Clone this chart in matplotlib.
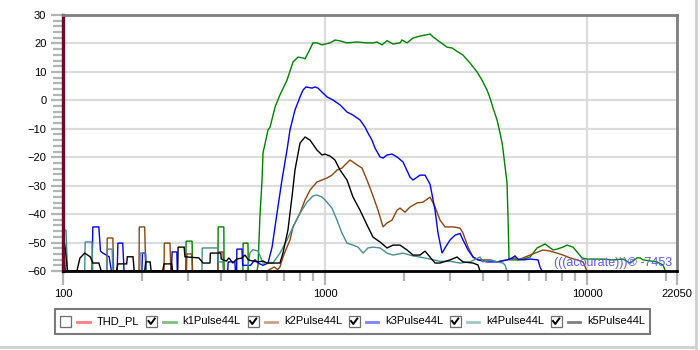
import matplotlib
matplotlib.use("Agg")
import matplotlib.pyplot as plt
from matplotlib.lines import Line2D
from matplotlib.patches import Rectangle
from matplotlib.ticker import FixedLocator, FixedFormatter, NullFormatter

plt.rcParams['font.family'] = ['Liberation Sans', 'DejaVu Sans']

# ---------------- data (frequency in Hz, level in dB) ----------------
series_names = ["THD_PL", "k1Pulse44L", "k2Pulse44L", "k3Pulse44L", "k4Pulse44L", "k5Pulse44L"]
series_colors = ["#ff0000", "#008000", "#8b4513", "#0000ff", "#4a8c8c", "#000000"]
series_checked = [False, True, True, True, True, True]

k1 = [(100, -60), (294, -60), (295, -49.5), (311, -49.5), (312, -60), (390, -60), (391, -44.5),
      (411, -44.5), (412, -60), (486, -60), (487, -50.2), (508, -50.2), (510, -60), (550, -60),
      (555, -58), (565, -40), (575, -28), (580, -18.5), (606, -10.4), (617, -9.4), (645, -2.3),
      (673, 1.9), (716, 7.1), (755, 13.5), (789, 15.2), (824, 14.9), (839, 14.6), (861, 16.6),
      (900, 20.2), (932, 20.2), (974, 19.5), (1045, 20.2), (1092, 21.2), (1141, 20.9), (1213, 20.2),
      (1325, 20.5), (1446, 20.2), (1525, 20.2), (1579, 20.5), (1651, 19.5), (1725, 21.0), (1818, 19.8),
      (1933, 20.2), (1967, 21.2), (2056, 20.2), (2167, 21.9), (2305, 22.6), (2517, 23.3), (2584, 22.3),
      (2748, 20.5), (2922, 18.7), (3053, 18.4), (3218, 17.0), (3363, 15.9), (3577, 13.1), (3804, 10.0),
      (3974, 7.1), (4153, 3.6), (4265, 0.8), (4378, -2.7), (4535, -6.9), (4656, -11.5), (4739, -15.0),
      (4781, -17.5), (4950, -29), (4994, -41), (5040, -56), (5083, -56.1), (5550, -56.1), (6060, -55.1),
      (6447, -51.9), (6916, -50.5), (7418, -52.6), (7683, -52.3), (8099, -51.6), (8390, -50.9),
      (8843, -51.6), (9571, -55.4), (10000, -55.8), (11511, -55.8), (12569, -56.1), (13725, -55.8),
      (14591, -57.2), (15514, -55.4), (15936, -55.4), (16361, -56.1), (18504, -56.8), (19506, -57.9),
      (19852, -59.7), (20000, -60)]

k2 = [(100, -60), (147, -60), (147.5, -48.4), (155, -48.4), (156, -60), (195, -60), (195.5, -44.5),
      (205, -44.5), (207, -60), (243, -60), (243.5, -50.2), (256, -50.2), (258, -60), (296, -60),
      (297, -54), (310, -54), (312, -60), (390, -60), (391, -53.3), (408, -53.3), (410, -60), (600, -60),
      (640, -58.6), (660, -59.5), (673, -58.6), (691, -55.1), (716, -51.6), (735, -49.1), (755, -44.5),
      (803, -39.6), (839, -35.0), (877, -31.5), (932, -28.7), (974, -28.0), (1018, -27.3), (1063, -26.3),
      (1111, -24.5), (1161, -23.8), (1192, -22.7), (1245, -21.0), (1279, -21.7), (1325, -22.7),
      (1384, -23.8), (1446, -28.0), (1511, -32.6), (1593, -38.6), (1665, -44.5), (1725, -43.1),
      (1802, -42.1), (1883, -38.6), (1933, -37.9), (2020, -39.3), (2111, -37.5), (2244, -36.1),
      (2366, -35.8), (2517, -34.0), (2630, -37.5), (2748, -42.1), (2871, -44.5), (3080, -44.5),
      (3276, -44.9), (3363, -46.7), (3515, -51.6), (3673, -55.1), (3837, -56.1), (4265, -56.1),
      (4535, -56.8), (4950, -56.1), (5310, -55.4), (5452, -56.1), (6060, -54.4), (6501, -53.3),
      (6791, -52.6), (7225, -53.0), (7683, -53.7), (8099, -54.4), (8612, -55.4), (9160, -56.1),
      (9654, -56.8), (10000, -60)]

k3 = [(100, -48.1), (102, -60), (129, -60), (130, -44.5), (137, -44.5), (139, -53), (142, -53.7),
      (150, -55), (153, -60), (161, -60), (162, -50.2), (169, -50.2), (171, -60), (200, -60),
      (201, -53.7), (206, -53.7), (208, -60), (259, -60), (261, -53.3), (272, -53.3), (273, -60),
      (425, -60), (427, -56.8), (453, -56.8), (455, -60), (460, -60), (461, -52.3), (482, -52.3),
      (485, -58), (520, -58), (540, -56), (556, -57.2), (580, -58), (606, -57.2), (628, -51.6),
      (656, -39.6), (685, -28.0), (716, -17.5), (735, -10.4), (768, -3.4), (803, 1.2), (824, 3.6),
      (846, 4.7), (892, 4.3), (916, 4.7), (940, 4.3), (974, 2.9), (1018, 1.2), (1073, 0.1),
      (1141, -1.6), (1213, -4.1), (1279, -5.2), (1360, -6.9), (1421, -9.4), (1459, -11.5),
      (1511, -14.0), (1552, -16.8), (1622, -19.9), (1665, -20.3), (1725, -19.2), (1802, -18.9),
      (1883, -19.9), (1985, -21.7), (2111, -27.0), (2167, -28.0), (2305, -26.3), (2408, -26.3),
      (2517, -29.5), (2630, -38.6), (2700, -46.7), (2797, -53.7), (2871, -51.9), (3000, -49.1),
      (3135, -47.4), (3276, -46.8), (3363, -49.1), (3515, -52.6), (3673, -55.1), (3837, -56.1),
      (4153, -56.8), (4535, -56.8), (4950, -56.1), (5172, -55.4), (5310, -54.7), (5452, -55.8),
      (5698, -56.1), (6060, -55.8), (6501, -56.1), (6617, -58.6), (6732, -60)]

k4 = [(100, -45.6), (102.7, -45.6), (104, -60), (121, -60), (121.5, -49.8), (129, -49.8), (130, -60),
      (147, -60), (147.5, -52.3), (154, -52.3), (155, -60), (196, -60), (197, -53.7), (207, -53.7),
      (208, -60), (339, -60), (340, -51.9), (390, -51.9), (392, -56.8), (408, -56.8), (410, -60),
      (505, -60), (517, -53.7), (531, -52.5), (555, -53.0), (580, -57.2), (633, -57.2), (673, -53.7),
      (716, -49.1), (755, -44.5), (803, -39.6), (854, -35.8), (900, -33.6), (932, -33.3), (974, -34.0),
      (1018, -35.8), (1063, -37.9), (1111, -42.1), (1161, -46.7), (1213, -50.2), (1279, -50.9),
      (1337, -51.6), (1396, -53.7), (1459, -51.9), (1525, -51.6), (1622, -51.9), (1725, -53.7),
      (1818, -54.4), (1985, -53.7), (2167, -54.7), (2305, -55.1), (2517, -55.8), (2748, -56.6),
      (3000, -56.6), (3276, -57.2), (3577, -56.8), (3905, -55.1), (4010, -56.8), (4265, -56.1),
      (4535, -56.8), (4781, -57.2), (4864, -57.9), (4950, -60)]

k5 = [(100, -47), (102, -52), (104, -60), (113, -60), (116, -55.5), (121, -53.7), (127, -55),
      (130, -57.2), (137, -57.2), (140, -60), (160, -60), (162, -57.5), (175, -57.5), (176, -55),
      (185, -55), (187, -60), (205, -60), (207, -56.8), (215, -56.8), (217, -60), (240, -60),
      (243, -57.5), (260, -57.5), (262, -60), (274, -60), (275, -51.6), (290, -51.6), (292, -55),
      (330, -55.4), (342, -57.2), (364, -57.2), (365, -53.7), (400, -53.7), (402, -55.8), (420, -56.5),
      (430, -55.4), (445, -57.2), (460, -55.8), (480, -55.5), (495, -54.4), (510, -56.1), (530, -56.5),
      (555, -56.8), (580, -56.5), (600, -57.2), (633, -57.2), (673, -57.2), (691, -53.7), (722, -45.6),
      (748, -34.0), (768, -24.5), (803, -15.0), (839, -12.9), (877, -14.0), (932, -17.5), (974, -19.2),
      (1000, -18.9), (1045, -19.6), (1092, -21.0), (1141, -24.5), (1213, -28.0), (1279, -34.0),
      (1360, -38.6), (1446, -43.8), (1525, -48.1), (1622, -49.8), (1725, -51.9), (1818, -50.9),
      (1933, -50.9), (2056, -52.6), (2167, -54.4), (2305, -54.4), (2408, -53.0), (2517, -55.1),
      (2630, -57.2), (2748, -57.2), (3000, -56.1), (3190, -55.1), (3363, -56.8), (3673, -57.2),
      (3837, -57.9), (3905, -60)]

x_major = [100, 1000, 10000, 22050]
x_major_labels = ["100", "1000", "10000", "22050"]
x_minor = [200, 300, 400, 500, 600, 700, 800, 900,
           2000, 3000, 4000, 5000, 6000, 7000, 8000, 9000, 20000]
y_major = [-60, -50, -40, -30, -20, -10, 0, 10, 20, 30]
watermark = "(((acourate)))® -7453"

# ---------------- figure ----------------
W, H = 700, 350
fig = plt.figure(figsize=(W / 100, H / 100), dpi=100)
fig.patch.set_facecolor("white")


def fx(x):
    return x / W


def fy(y):
    return 1 - y / H


ax = fig.add_axes([fx(63), fy(271), (677 - 63) / W, (271 - 15) / H])
ax.set_xscale("log")
ax.set_xlim(100, 22050)
ax.set_ylim(-60, 30)

series_data = [None, k1, k2, k3, k4, k5]
for data, col in zip(series_data, series_colors):
    if data is None:
        continue
    xs = [p[0] for p in data]
    ys = [p[1] for p in data]
    ax.plot(xs, ys, color=col, lw=1.0, zorder=3, solid_joinstyle="miter")

ax.xaxis.set_major_locator(FixedLocator(x_major))
ax.xaxis.set_major_formatter(FixedFormatter(x_major_labels))
ax.xaxis.set_minor_locator(FixedLocator(x_minor))
ax.xaxis.set_minor_formatter(NullFormatter())
ax.yaxis.set_major_locator(FixedLocator(y_major))
ax.yaxis.set_minor_locator(FixedLocator(list(range(-60, 31, 2))))

ax.tick_params(axis="both", which="both", direction="out", color="#b4b4b4", width=1.6,
               labelsize=8, labelcolor="#000000")
ax.tick_params(axis="y", which="major", length=9, pad=3)
ax.tick_params(axis="y", which="minor", length=7)
ax.tick_params(axis="x", which="major", length=10, pad=3)
ax.tick_params(axis="x", which="minor", length=7)

ax.grid(True, which="major", color="#dcdcdc", lw=1.6)
ax.set_axisbelow(True)

ax.spines["left"].set_color("#6d0b2e")
ax.spines["left"].set_linewidth(2.4)
ax.spines["bottom"].set_color("#000000")
ax.spines["bottom"].set_linewidth(2.0)
ax.spines["top"].set_color("#7f7f7f")
ax.spines["top"].set_linewidth(2.0)
ax.spines["right"].set_color("#7f7f7f")
ax.spines["right"].set_linewidth(2.0)
for s in ax.spines.values():
    s.set_zorder(5)

fig.text(fx(554), fy(263), watermark, color="#5a5aff", fontsize=9, ha="left", va="center")

# outer panel lines
fig.add_artist(Line2D([fx(696), fx(696)], [0, 1], color="#d2d2d2", lw=2.2))
fig.add_artist(Line2D([0, fx(696)], [fy(347), fy(347)], color="#d2d2d2", lw=2.2))

# legend box
fig.add_artist(Rectangle((fx(55.5), fy(334)), (650 - 55.5) / W, 25 / H, transform=fig.transFigure,
                         facecolor="white", edgecolor="#7a7a7a", lw=1.5))
cb_left = [60, 146, 247.5, 348.5, 449.5, 550.5]
yc = 321.5


def light(c):
    c = c.lstrip("#")
    r, g, b = int(c[0:2], 16), int(c[2:4], 16), int(c[4:6], 16)
    return "#%02x%02x%02x" % ((r + 255) // 2, (g + 255) // 2, (b + 255) // 2)


for cx, name, col, chk in zip(cb_left, series_names, series_colors, series_checked):
    fig.add_artist(Rectangle((fx(cx), fy(yc + 5.5)), 11 / W, 11 / H, transform=fig.transFigure,
                             facecolor="white", edgecolor="#6e6e6e", lw=0.9))
    if chk:
        fig.add_artist(Line2D([fx(cx + 2.5), fx(cx + 4.8), fx(cx + 8.8)],
                              [fy(yc - 0.5), fy(yc + 2.5), fy(yc - 3.0)],
                              color="black", lw=1.4))
    fig.add_artist(Line2D([fx(cx + 17), fx(cx + 29.5)], [fy(yc), fy(yc)], color=light(col), lw=2.0))
    fig.text(fx(cx + 36.5), fy(yc), name, fontsize=8, ha="left", va="center", color="black")

fig.savefig("out.png", dpi=100, facecolor="white")
